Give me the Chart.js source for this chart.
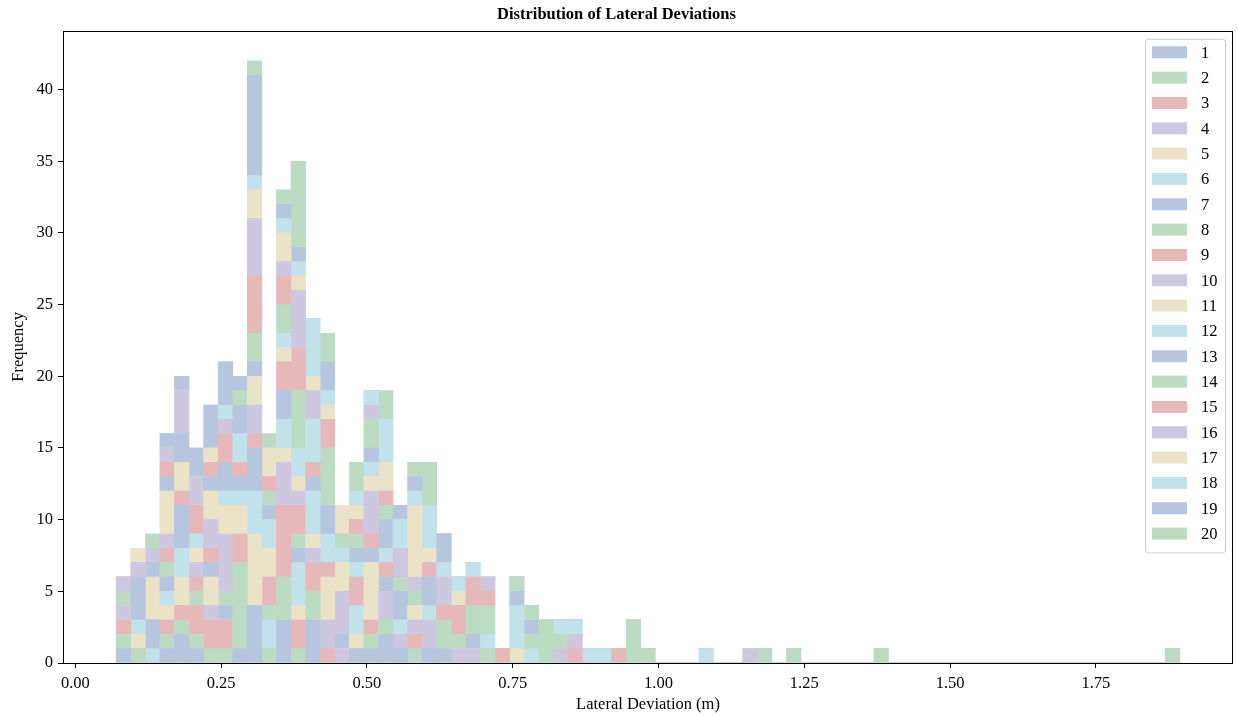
<!DOCTYPE html>
<html>
<head>
<meta charset="utf-8">
<title>Distribution of Lateral Deviations</title>
<script src="https://cdn.jsdelivr.net/npm/chart.js@4.4.1/dist/chart.umd.min.js"></script>
<style>
  html, body { margin: 0; padding: 0; background: #fff; }
  #wrap { width: 1238px; height: 717px; }
</style>
</head>
<body>
<div id="wrap"><canvas id="hist" width="1238" height="717"></canvas></div>
<script>
// 73 equal-width bins spanning the observed deviations (m)
const binStart = 0.070;
const binEnd = 1.894;
const binCount = 73;

const xTickValues = [0.00, 0.25, 0.50, 0.75, 1.00, 1.25, 1.50, 1.75];
const yTickValues = [0, 5, 10, 15, 20, 25, 30, 35, 40];
const seriesLabels = ['1', '2', '3', '4', '5', '6', '7', '8', '9', '10',
  '11', '12', '13', '14', '15', '16', '17', '18', '19', '20'];

// counts per bin for each run (first 37 bins, then the sparse tail)
const counts1 = [
  1,0,0,1,2,1,0,0,1,4, 0,3,0,3,0,0,1,1,2,1, 0,1,1,0,0,0,0,0,0,0, 0,0,0,0,0,0,0,
  0,0,0,0,0,0, 0,0,0,0,0,0, 0,0,0,0,0,0, 0,0,0,0,0,0, 0,0,0,0,0,0, 0,0,0,0,0,0
];
const counts2 = [
  1,1,0,1,1,1,1,1,6,0, 1,3,1,2,0,0,0,1,1,0, 1,0,2,0,0,1,0,0,0,3, 0,0,0,0,0,3,1,
  0,0,0,0,0,0, 0,1,0,1,0,0, 0,0,0,1,0,0, 0,0,0,0,0,0, 0,0,0,0,0,0, 0,0,0,0,0,1
];
const counts3 = [
  1,0,0,1,1,2,2,2,2,0, 0,5,2,2,1,0,0,1,0,0, 1,0,1,0,0,0,1,0,0,0, 0,1,0,0,1,0,0,
  0,0,0,0,0,0, 0,0,0,0,0,0, 0,0,0,0,0,0, 0,0,0,0,0,0, 0,0,0,0,0,0, 0,0,0,0,0,0
];
const counts4 = [
  1,0,0,0,0,0,1,0,0,0, 0,3,0,1,2,1,0,0,2,1, 1,2,2,1,1,0,0,0,0,0, 1,1,0,0,0,0,0,
  0,0,0,0,0,0, 1,0,0,0,0,0, 0,0,0,0,0,0, 0,0,0,0,0,0, 0,0,0,0,0,0, 0,0,0,0,0,0
];
const counts5 = [
  0,1,0,1,2,0,2,0,2,5, 0,1,1,1,3,0,1,4,0,0, 1,0,0,0,0,0,0,1,0,0, 0,0,0,0,0,0,0,
  0,0,0,0,0,0, 0,0,0,0,0,0, 0,0,0,0,0,0, 0,0,0,0,0,0, 0,0,0,0,0,0, 0,0,0,0,0,0
];
const counts6 = [
  0,1,1,1,2,0,0,0,1,3, 2,2,3,3,0,0,2,0,0,1, 0,1,1,0,0,1,0,3,1,0, 0,1,1,1,0,0,0,
  0,0,0,1,0,0, 0,0,0,0,0,0, 0,0,0,0,0,0, 0,0,0,0,0,0, 0,0,0,0,0,0, 0,0,0,0,0,0
];
const counts7 = [
  0,3,2,1,3,0,1,1,1,3, 0,2,1,1,0,1,0,1,1,2, 0,2,2,0,1,0,0,1,0,0, 0,0,0,0,0,0,0,
  0,0,0,0,0,0, 0,0,0,0,0,0, 0,0,0,0,0,0, 0,0,0,0,0,0, 0,0,0,0,0,0, 0,0,0,0,0,0
];
const counts8 = [
  1,0,0,1,0,1,0,1,0,0, 1,0,1,0,0,0,0,0,0,1, 1,0,0,1,2,2,0,1,1,0, 1,0,0,0,0,0,0,
  0,0,0,0,0,0, 0,0,0,0,0,0, 0,0,0,0,0,0, 0,0,0,0,0,0, 0,0,0,0,0,0, 0,0,0,0,0,0
];
const counts9 = [
  0,0,0,1,1,1,1,0,1,1, 2,2,2,1,1,0,2,1,1,0, 0,1,0,2,2,1,0,0,0,0, 0,0,0,0,0,0,0,
  0,0,0,0,0,0, 0,0,0,0,0,0, 0,0,0,0,0,0, 0,0,0,0,0,0, 0,0,0,0,0,0, 0,0,0,0,0,0
];
const counts10 = [
  1,1,0,1,0,1,2,4,0,2, 0,0,1,0,0,3,0,3,0,2, 1,0,0,0,0,1,0,0,0,0, 0,0,0,0,0,0,0,
  0,0,0,0,0,0, 0,0,0,0,0,0, 0,0,0,0,0,0, 0,0,0,0,0,0, 0,0,0,0,0,0, 0,0,0,0,0,0
];
const counts11 = [
  0,1,3,3,2,1,2,2,0,2, 2,1,1,0,0,2,0,1,0,0, 5,1,0,1,0,0,0,0,0,0, 0,0,0,0,0,0,0,
  0,0,0,0,0,0, 0,0,0,0,0,0, 0,0,0,0,0,0, 0,0,0,0,0,0, 0,0,0,0,0,0, 0,0,0,0,0,0
];
const counts12 = [
  0,0,0,0,0,1,0,1,2,0, 2,1,2,3,2,1,1,1,1,2, 1,3,0,1,1,0,0,0,0,0, 1,0,0,0,0,0,0,
  0,0,0,0,0,0, 0,0,0,0,0,0, 0,0,0,0,0,0, 0,0,0,0,0,0, 0,0,0,0,0,0, 0,0,0,0,0,0
];
const counts13 = [
  0,0,1,1,2,0,1,2,2,1, 1,0,0,0,2,0,1,1,2,1, 1,0,0,0,0,0,0,0,1,0, 0,0,0,0,0,0,0,
  0,0,0,0,0,0, 0,0,0,0,0,0, 0,0,0,0,0,0, 0,0,0,0,0,0, 0,0,0,0,0,0, 0,0,0,0,0,0
];
const counts14 = [
  0,0,0,0,0,0,0,0,1,2, 1,2,4,0,4,1,1,2,1,0, 1,3,0,0,0,0,0,0,1,0, 0,0,0,0,0,0,0,
  0,0,0,0,0,0, 0,0,0,0,0,0, 0,0,0,0,0,0, 0,0,0,0,0,0, 0,0,0,0,0,0, 0,0,0,0,0,0
];
const counts15 = [
  0,0,0,1,0,2,1,2,0,4, 1,2,3,0,2,0,1,0,1,0, 0,0,0,0,0,0,0,0,0,0, 0,0,0,0,0,0,0,
  0,0,0,0,0,0, 0,0,0,0,0,0, 0,0,0,0,0,0, 0,0,0,0,0,0, 0,0,0,0,0,0, 0,0,0,0,0,0
];
const counts16 = [
  0,0,1,1,3,2,0,1,0,4, 0,1,4,2,0,0,0,1,0,0, 0,0,0,0,0,0,0,0,0,0, 0,0,0,0,0,0,0,
  0,0,0,0,0,0, 0,0,0,0,0,0, 0,0,0,0,0,0, 0,0,0,0,0,0, 0,0,0,0,0,0, 0,0,0,0,0,0
];
const counts17 = [
  0,0,0,0,0,0,1,0,0,2, 2,2,1,1,1,2,1,0,2,0, 0,0,0,0,0,0,0,0,0,0, 0,0,0,0,0,0,0,
  0,0,0,0,0,0, 0,0,0,0,0,0, 0,0,0,0,0,0, 0,0,0,0,0,0, 0,0,0,0,0,0, 0,0,0,0,0,0
];
const counts18 = [
  0,0,0,0,0,0,0,1,0,1, 0,1,1,4,1,0,1,1,3,0, 0,0,0,0,0,0,0,0,0,0, 0,0,0,0,0,0,0,
  0,0,0,0,0,0, 0,0,0,0,0,0, 0,0,0,0,0,0, 0,0,0,0,0,0, 0,0,0,0,0,0, 0,0,0,0,0,0
];
const counts19 = [
  0,0,0,1,1,2,3,3,1,7, 0,1,1,0,2,0,0,0,0,0, 0,0,0,0,0,0,0,0,0,0, 0,0,0,0,0,0,0,
  0,0,0,0,0,0, 0,0,0,0,0,0, 0,0,0,0,0,0, 0,0,0,0,0,0, 0,0,0,0,0,0, 0,0,0,0,0,0
];
const counts20 = [
  0,0,1,0,0,0,0,0,0,1, 1,1,6,0,2,0,2,0,2,0, 0,0,0,0,0,0,0,0,0,0, 0,0,0,0,0,0,0,
  0,0,0,0,0,0, 0,0,0,0,0,0, 0,0,0,0,0,0, 0,0,0,0,0,0, 0,0,0,0,0,0, 0,0,0,0,0,0
];

const allCounts = [counts1, counts2, counts3, counts4, counts5, counts6, counts7,
  counts8, counts9, counts10, counts11, counts12, counts13, counts14, counts15,
  counts16, counts17, counts18, counts19, counts20];

// six-colour cycle, pale fills (alpha 0.4 over white)
const palette = [
  'rgb(182,198,223)', // blue
  'rgb(187,220,195)', // green
  'rgb(231,184,186)', // red
  'rgb(205,199,224)', // purple
  'rgb(235,227,199)', // sand
  'rgb(193,225,235)'  // cyan
];

const binWidth = (binEnd - binStart) / binCount;
const binCenters = [];
for (let k = 0; k < binCount; k++) {
  binCenters.push(binStart + (k + 0.5) * binWidth);
}

// matplotlib-style 5% margins around the bin range
const xPad = (binEnd - binStart) * 0.05;
const xMin = binStart - xPad;
const xMax = binEnd + xPad;
const yMax = 42 * 1.05;

const serif = 'Liberation Serif, "Times New Roman", serif';
const fontSize = 16.5;

const datasets = allCounts.map(function (counts, i) {
  return {
    label: seriesLabels[i],
    data: counts.map(function (c, k) { return { x: binCenters[k], y: c }; }),
    backgroundColor: palette[i % palette.length],
    borderWidth: 0,
    barPercentage: 1,
    categoryPercentage: 1
  };
});

// axes box drawn on top of the bars
const axesFrame = {
  id: 'axesFrame',
  afterDatasetsDraw(chart) {
    const { ctx, chartArea } = chart;
    const l = Math.round(chartArea.left) + 0.5;
    const t = Math.round(chartArea.top) + 0.5;
    const r = Math.round(chartArea.right) - 0.5;
    const b = Math.round(chartArea.bottom) + 0.5;
    ctx.save();
    ctx.strokeStyle = '#000';
    ctx.lineWidth = 1;
    ctx.strokeRect(l, t, r - l, b - t);
    ctx.restore();
  }
};

// legend box in the upper right corner of the plot
const cornerLegend = {
  id: 'cornerLegend',
  afterDraw(chart) {
    const { ctx, chartArea } = chart;
    const sets = chart.data.datasets;
    const right = chartArea.right - 8;
    const left = right - 80;
    const top = chartArea.top + 8;
    const rowH = 25.33;
    const height = rowH * sets.length + 7;
    ctx.save();
    ctx.fillStyle = 'rgba(255,255,255,0.8)';
    ctx.strokeStyle = '#cccccc';
    ctx.lineWidth = 1;
    ctx.beginPath();
    ctx.roundRect(left + 0.5, top + 0.5, right - left, height, 3);
    ctx.fill();
    ctx.stroke();
    ctx.font = fontSize + 'px ' + serif;
    ctx.textBaseline = 'middle';
    ctx.textAlign = 'left';
    sets.forEach(function (ds, i) {
      const cy = top + 13.5 + i * rowH;
      ctx.fillStyle = ds.backgroundColor;
      ctx.fillRect(left + 7, cy - 6, 35, 12);
      ctx.fillStyle = '#000';
      ctx.fillText(ds.label, left + 56, cy + 1);
    });
    ctx.restore();
  }
};

const ctx = document.getElementById('hist').getContext('2d');
new Chart(ctx, {
  type: 'bar',
  data: { datasets: datasets },
  options: {
    responsive: false,
    animation: false,
    layout: { padding: { left: 0, right: 5, top: 0, bottom: 0 } },
    plugins: {
      legend: { display: false },
      tooltip: { enabled: false },
      title: {
        display: true,
        text: 'Distribution of Lateral Deviations',
        color: '#000',
        font: { family: serif, size: fontSize, weight: 'bold' },
        padding: { top: 5, bottom: 6 }
      }
    },
    scales: {
      x: {
        type: 'linear',
        min: xMin,
        max: xMax,
        offset: false,
        stacked: true,
        border: { display: false },
        grid: { drawOnChartArea: false, drawTicks: true, tickLength: 5, tickColor: '#000', offset: false },
        afterBuildTicks: function (scale) {
          scale.ticks = xTickValues.map(function (v) { return { value: v }; });
        },
        afterFit: function (scale) { scale.height = 54; },
        ticks: {
          color: '#000',
          font: { family: serif, size: fontSize },
          padding: 6,
          maxRotation: 0,
          autoSkip: false,
          callback: function (v) { return Number(v).toFixed(2); }
        },
        title: {
          display: true,
          text: 'Lateral Deviation (m)',
          color: '#000',
          font: { family: serif, size: fontSize },
          padding: { top: 0, bottom: 2 }
        }
      },
      y: {
        min: 0,
        max: yMax,
        stacked: true,
        border: { display: false },
        grid: { drawOnChartArea: false, drawTicks: true, tickLength: 5, tickColor: '#000' },
        afterBuildTicks: function (scale) {
          scale.ticks = yTickValues.map(function (v) { return { value: v }; });
        },
        afterFit: function (scale) { scale.width = 63; },
        ticks: {
          color: '#000',
          font: { family: serif, size: fontSize },
          padding: 5,
          callback: function (v) { return String(v); }
        },
        title: {
          display: true,
          text: 'Frequency',
          color: '#000',
          font: { family: serif, size: fontSize },
          padding: { top: 9, bottom: 0 }
        }
      }
    }
  },
  plugins: [axesFrame, cornerLegend]
});
</script>
</body>
</html>
